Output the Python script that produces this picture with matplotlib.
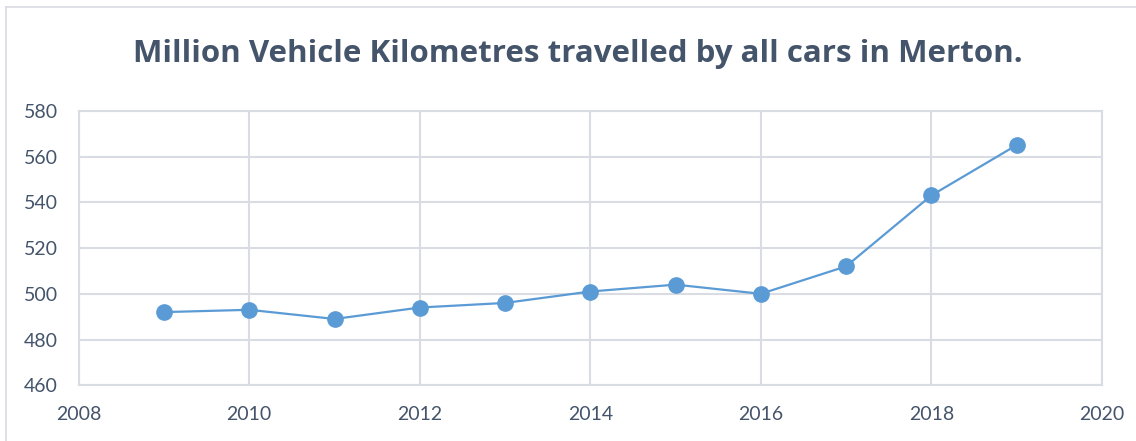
import matplotlib
matplotlib.use("Agg")
import matplotlib.pyplot as plt
from matplotlib.lines import Line2D

years = [2009, 2010, 2011, 2012, 2013, 2014, 2015, 2016, 2017, 2018, 2019]
vehicle_km = [492, 493, 489, 494, 496, 501, 504, 500, 512, 543, 565]
x_ticks = [2008, 2010, 2012, 2014, 2016, 2018, 2020]
y_ticks = [460, 480, 500, 520, 540, 560, 580]
title = "Million Vehicle Kilometres travelled by all cars in Merton."

text_color = "#44546A"
grid_color = "#D9DCE3"
line_color = "#5B9BD5"

plt.rcParams['font.family'] = ['Lato', 'DejaVu Sans']

fig = plt.figure(figsize=(11.36, 4.41), dpi=100)
ax = fig.add_axes([0.0693, 0.1263, 0.970 - 0.0693, 0.7488 - 0.1263])

ax.plot(years, vehicle_km, color=line_color, linewidth=1.6, marker='o',
        markersize=11, markerfacecolor=line_color, markeredgecolor=line_color, zorder=3)

ax.set_xlim(2008, 2020)
ax.set_ylim(460, 580)
ax.set_xticks(x_ticks)
ax.set_yticks(y_ticks)
ax.grid(True, color=grid_color, linewidth=1.5)
ax.set_axisbelow(True)
for s in ax.spines.values():
    s.set_color(grid_color)
    s.set_linewidth(1.5)
ax.tick_params(length=0, colors=text_color, labelsize=14)
ax.tick_params(axis='y', pad=15)
ax.tick_params(axis='x', pad=15)
for lbl in ax.get_xticklabels() + ax.get_yticklabels():
    lbl.set_color(text_color)

fig.text(0.509, 0.878, title, ha='center', va='center', fontsize=22.5,
         fontweight='bold', color=text_color, family=['Open Sans', 'DejaVu Sans'])

# chart border (partially cropped)
fig.add_artist(Line2D([6/1136, 6/1136], [0, 1 - 7/441], transform=fig.transFigure,
                      color=grid_color, linewidth=1.2))
fig.add_artist(Line2D([6/1136, 1], [1 - 7/441, 1 - 7/441], transform=fig.transFigure,
                      color=grid_color, linewidth=1.2))

fig.savefig("out.png", dpi=100)
